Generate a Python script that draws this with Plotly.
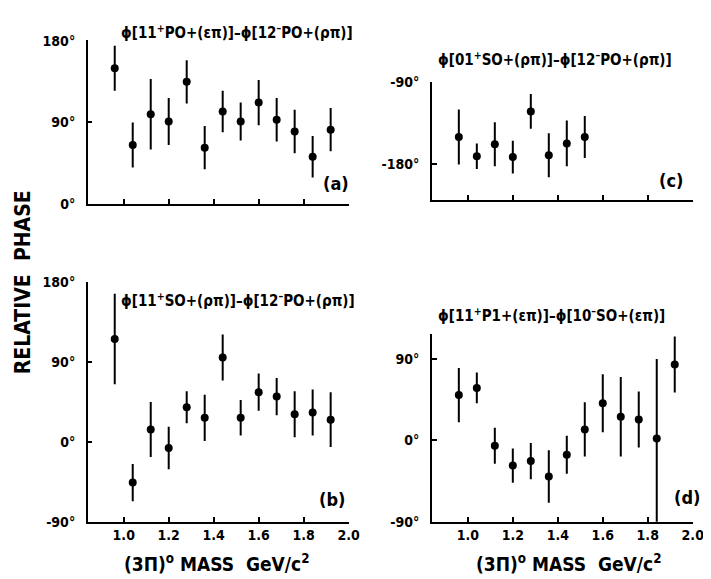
import plotly.graph_objects as go

# ---------------- data ----------------
mass_13 = [0.96, 1.04, 1.12, 1.20, 1.28, 1.36, 1.44, 1.52, 1.60, 1.68, 1.76, 1.84, 1.92]
mass_8 = [0.96, 1.04, 1.12, 1.20, 1.28, 1.36, 1.44, 1.52]

phase_a = [150, 65, 99, 91, 135, 62, 102, 91, 112, 93, 80, 52, 82]
err_a = [25, 25, 39, 26, 24, 24, 23, 21, 25, 24, 24, 23, 24]

phase_b = [116, -46, 14, -7, 39, 27, 95, 27, 56, 51, 31, 33, 25]
err_b = [51, 21, 31, 24, 18, 26, 26, 20, 21, 21, 26, 26, 31]

phase_c = [-150, -171, -158, -172, -122, -170, -157, -150]
err_c = [30, 14, 24, 18, 19, 24, 25, 23]

phase_d = [50, 58, -6, -28, -23, -40, -16, 12, 41, 26, 23, 2, 84]
err_d_plus = [30, 17, 20, 19, 20, 29, 21, 30, 32, 44, 31, 88, 31]
err_d_minus = [30, 17, 20, 19, 20, 29, 21, 30, 32, 44, 31, 100, 31]

xticks = [1.0, 1.2, 1.4, 1.6, 1.8, 2.0]
xticklabels = ["1.0", "1.2", "1.4", "1.6", "1.8", "2.0"]
yticks_a = [0, 90, 180]
yticklabels_a = ["0°", "90°", "180°"]
yticks_b = [-90, 0, 90, 180]
yticklabels_b = ["-90°", "0°", "90°", "180°"]
yticks_c = [-180, -90]
yticklabels_c = ["-180°", "-90°"]
yticks_d = [-90, 0, 90]
yticklabels_d = ["-90°", "0°", "90°"]

titles = [
    "ϕ[11<sup>+</sup>PO+(επ)]–ϕ[12<sup>–</sup>PO+(ρπ)]",
    "ϕ[11<sup>+</sup>SO+(ρπ)]–ϕ[12<sup>–</sup>PO+(ρπ)]",
    "ϕ[01<sup>+</sup>SO+(ρπ)]–ϕ[12<sup>–</sup>PO+(ρπ)]",
    "ϕ[11<sup>+</sup>P1+(επ)]–ϕ[10<sup>–</sup>SO+(επ)]",
]
panel_tags = ["(a)", "(b)", "(c)", "(d)"]
xtitle = "(3Π)<sup>o</sup> MASS  GeV/c<sup>2</sup>"
ytitle = "RELATIVE  PHASE"

# ---------------- layout helpers ----------------
W, H = 711, 579
FONT = "DejaVu Sans Condensed, DejaVu Sans, sans-serif"

def px_x(p):
    return p / W

def px_y(p):
    return 1 - p / H

fig = go.Figure()

def add_panel(idx, x, y, eplus, eminus):
    fig.add_trace(go.Scatter(
        x=x, y=y, mode="markers",
        marker=dict(color="black", size=8),
        error_y=dict(type="data", array=eplus, arrayminus=eminus,
                     symmetric=False, color="black", thickness=2, width=0),
        xaxis="x" + ("" if idx == 1 else str(idx)),
        yaxis="y" + ("" if idx == 1 else str(idx)),
        showlegend=False, hoverinfo="skip"))

add_panel(1, mass_13, phase_a, err_a, err_a)
add_panel(2, mass_13, phase_b, err_b, err_b)
add_panel(3, mass_8, phase_c, err_c, err_c)
add_panel(4, mass_13, phase_d, err_d_plus, err_d_minus)

tickfont = dict(family=FONT, size=14, color="black", weight="bold")

def xaxis(dom, show_labels, anchor):
    return dict(domain=dom, range=[0.84, 2.0], anchor=anchor,
                showline=True, linecolor="black", linewidth=1.5,
                ticks="inside", ticklen=5, tickwidth=1.5, tickcolor="black",
                tickvals=xticks, ticktext=xticklabels if show_labels else [""] * 6,
                showgrid=False, zeroline=False, tickfont=tickfont)

def yaxis(dom, rng, tv, tt, anchor):
    return dict(domain=dom, range=rng, anchor=anchor,
                showline=True, linecolor="black", linewidth=1.5,
                ticks="inside", ticklen=5, tickwidth=1.5, tickcolor="black",
                tickvals=tv, ticktext=tt, ticklabelstandoff=8,
                showgrid=False, zeroline=False, tickfont=tickfont)

xl = [px_x(81), px_x(346)]
xr = [px_x(430.5), px_x(695.5)]

fig.update_layout(
    width=W, height=H,
    margin=dict(l=0, r=0, t=0, b=0),
    paper_bgcolor="white", plot_bgcolor="white",
    xaxis=xaxis(xl, False, "y"),
    yaxis=yaxis([px_y(193), px_y(25)], [0, 181], yticks_a, yticklabels_a, "x"),
    xaxis2=xaxis(xl, True, "y2"),
    yaxis2=yaxis([px_y(520), px_y(273.7)], [-90, 180], yticks_b, yticklabels_b, "x2"),
    xaxis3=xaxis(xr, False, "y3"),
    yaxis3=yaxis([px_y(189.3), px_y(68)], [-219, -90], yticks_c, yticklabels_c, "x3"),
    xaxis4=xaxis(xr, True, "y4"),
    yaxis4=yaxis([px_y(520), px_y(326.7)], [-90, 118], yticks_d, yticklabels_d, "x4"),
)

ann = []
title_pos = [(113, 16), (113, 292), (435, 44), (435, 308)]
for t, (px, py) in zip(titles, title_pos):
    ann.append(dict(text=t, x=px_x(px), y=px_y(py), xref="paper", yref="paper",
                    xanchor="left", yanchor="middle", showarrow=False,
                    font=dict(family=FONT, size=15, color="black", weight="bold")))
tag_pos = [(333, 172), (329, 497), (673, 169), (690, 495)]
for t, (px, py) in zip(panel_tags, tag_pos):
    ann.append(dict(text=t, x=px_x(px), y=px_y(py), xref="paper", yref="paper",
                    xanchor="center", yanchor="middle", showarrow=False,
                    font=dict(family=FONT, size=18, color="black", weight="bold")))
for cx in (212, 569):
    ann.append(dict(text=xtitle, x=px_x(cx), y=px_y(563), xref="paper", yref="paper",
                    xanchor="center", yanchor="middle", showarrow=False,
                    font=dict(family=FONT, size=19, color="black", weight="bold")))
ann.append(dict(text=ytitle, x=px_x(16), y=px_y(274), xref="paper", yref="paper",
                xanchor="center", yanchor="middle", showarrow=False, textangle=-90,
                font=dict(family=FONT, size=21, color="black", weight="bold")))
fig.update_layout(annotations=ann)

fig.write_html("out.html")
